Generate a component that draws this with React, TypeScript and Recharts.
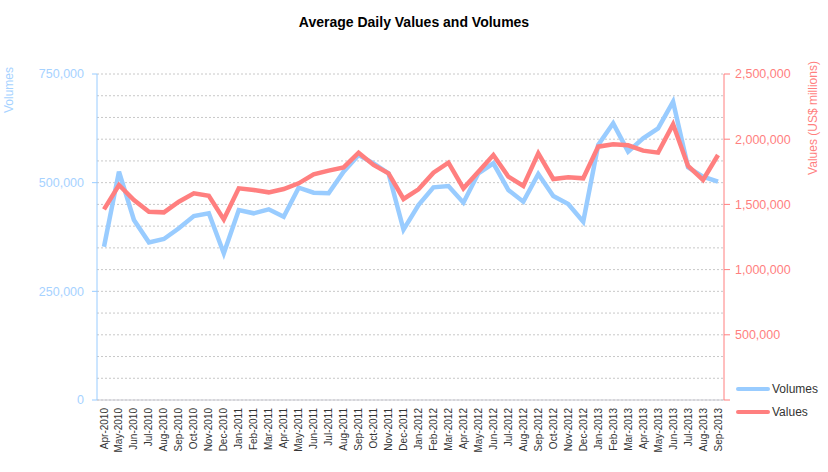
import { CartesianGrid, Legend, Line, LineChart, XAxis, YAxis } from "recharts";

const months = [
  "Apr-2010", "May-2010", "Jun-2010", "Jul-2010", "Aug-2010", "Sep-2010", "Oct-2010", "Nov-2010", "Dec-2010",
  "Jan-2011", "Feb-2011", "Mar-2011", "Apr-2011", "May-2011", "Jun-2011", "Jul-2011", "Aug-2011", "Sep-2011",
  "Oct-2011", "Nov-2011", "Dec-2011", "Jan-2012", "Feb-2012", "Mar-2012", "Apr-2012", "May-2012", "Jun-2012",
  "Jul-2012", "Aug-2012", "Sep-2012", "Oct-2012", "Nov-2012", "Dec-2012", "Jan-2013", "Feb-2013", "Mar-2013",
  "Apr-2013", "May-2013", "Jun-2013", "Jul-2013", "Aug-2013", "Sep-2013",
];

const volumes = [
  352700, 525300, 414100, 362700, 370400, 395000, 423300, 429500, 337500,
  437100, 429500, 438700, 421700, 488400, 477000, 475500, 525300, 563600,
  544500, 521500, 392000, 448600, 489300, 492300, 454000, 521500, 544500,
  483100, 456300, 519900, 469300, 450900, 410300, 586700, 636500, 571300,
  602000, 625000, 686300, 535300, 513800, 502300,
];

const values = [
  1462000, 1648800, 1533700, 1444000, 1439000, 1520700, 1585000, 1566800, 1385500,
  1623200, 1610400, 1592500, 1618100, 1661600, 1730600, 1758700, 1784200, 1896800,
  1802100, 1738300, 1541400, 1615500, 1743400, 1820100, 1623200, 1751100, 1878800,
  1712600, 1641100, 1891600, 1694800, 1707600, 1699900, 1942800, 1960600, 1953000,
  1912100, 1896800, 2114000, 1794500, 1687100, 1878800,
];

const volumeTicks = [
  0, 50000, 100000, 150000, 200000, 250000, 300000, 350000, 400000, 450000,
  500000, 550000, 600000, 650000, 700000, 750000,
];
const valueTicks = [0, 500000, 1000000, 1500000, 2000000, 2500000];

const BLUE = "#99ccff";
const BLUE_TEXT = "#a6d2ff";
const RED = "#ff7f7f";
const FONT = "'Liberation Sans', Arial, sans-serif";

const data = months.map((month, i) => ({ month, volumes: volumes[i], values: values[i] }));

const fmt = (v: number) => v.toLocaleString("en-US");

function LeftTick(props: any) {
  const { x, y, payload } = props;
  if (payload.value % 250000 !== 0) return <g />;
  return (
    <g>
      <line x1={x - 3} x2={x + 2} y1={y} y2={y} stroke={BLUE} />
      <text x={x - 11} y={y} dy="0.35em" textAnchor="end" fill={BLUE_TEXT} fontSize={12.5} fontFamily={FONT}>
        {fmt(payload.value)}
      </text>
    </g>
  );
}

function RightTick(props: any) {
  const { x, y, payload } = props;
  if (payload.value === 0) return <g />;
  return (
    <text x={x} y={y} dy="0.35em" textAnchor="start" fill={RED} fontSize={12.5} fontFamily={FONT}>
      {fmt(payload.value)}
    </text>
  );
}

function MonthTick(props: any) {
  const { x, y, payload } = props;
  return (
    <text
      x={x}
      y={y}
      dy="0.35em"
      transform={`rotate(-90 ${x} ${y})`}
      textAnchor="end"
      fill="#333"
      fontSize={10}
      fontFamily={FONT}
    >
      {payload.value}
    </text>
  );
}

function LegendBox() {
  const items = [
    { name: "Volumes", color: BLUE },
    { name: "Values", color: RED },
  ];
  return (
    <div style={{ fontFamily: FONT, fontSize: 12, color: "#333" }}>
      {items.map((it) => (
        <div key={it.name} style={{ display: "flex", alignItems: "center", height: 23 }}>
          <span style={{ display: "inline-block", width: 34, height: 4, background: it.color, borderRadius: 2 }} />
          <span style={{ marginLeft: 2 }}>{it.name}</span>
        </div>
      ))}
    </div>
  );
}

export default function App() {
  return (
    <div style={{ position: "absolute", left: 0, top: 0, width: 828, height: 472, background: "#fff" }}>
      <div
        style={{
          position: "absolute",
          left: 0,
          top: 14,
          width: 828,
          textAlign: "center",
          fontFamily: FONT,
          fontWeight: "bold",
          fontSize: 14,
          color: "#000",
        }}
      >
        Average Daily Values and Volumes
      </div>
      <div
        style={{
          position: "absolute",
          left: 9,
          top: 90,
          transform: "translate(-50%, -50%) rotate(-90deg)",
          fontFamily: FONT,
          fontSize: 12,
          color: BLUE_TEXT,
          whiteSpace: "nowrap",
        }}
      >
        Volumes
      </div>
      <div
        style={{
          position: "absolute",
          left: 813,
          top: 118,
          transform: "translate(-50%, -50%) rotate(-90deg)",
          fontFamily: FONT,
          fontSize: 12,
          color: RED,
          whiteSpace: "nowrap",
        }}
      >
        Values (US$ millions)
      </div>
      <LineChart width={828} height={472} data={data} margin={{ top: 74, right: 44, left: 47, bottom: 22 }}>
        <CartesianGrid vertical={false} yAxisId="vol" stroke="#c8c8c8" strokeDasharray="2 2" />
        <XAxis
          dataKey="month"
          interval={0}
          height={50}
          padding={{ left: 7, right: 6 }}
          tickLine={false}
          axisLine={{ stroke: "#c8c8d0" }}
          tick={<MonthTick />}
        />
        <YAxis
          yAxisId="vol"
          orientation="left"
          width={50}
          domain={[0, 750000]}
          ticks={volumeTicks}
          interval={0}
          tickLine={false}
          tickSize={0}
          axisLine={{ stroke: BLUE }}
          tick={<LeftTick />}
        />
        <YAxis
          yAxisId="val"
          orientation="right"
          width={60}
          domain={[0, 2500000]}
          ticks={valueTicks}
          interval={0}
          tickSize={6}
          tickMargin={5}
          tickLine={{ stroke: RED }}
          axisLine={{ stroke: RED }}
          tick={<RightTick />}
        />
        <Legend
          layout="vertical"
          align="center"
          verticalAlign="middle"
          wrapperStyle={{ left: 736, top: 377, width: 90 }}
          content={<LegendBox />}
        />
        <Line
          yAxisId="vol"
          type="linear"
          dataKey="volumes"
          name="Volumes"
          stroke={BLUE}
          strokeWidth={4.5}
          dot={false}
          isAnimationActive={false}
        />
        <Line
          yAxisId="val"
          type="linear"
          dataKey="values"
          name="Values"
          stroke={RED}
          strokeWidth={4.5}
          dot={false}
          isAnimationActive={false}
        />
      </LineChart>
    </div>
  );
}
